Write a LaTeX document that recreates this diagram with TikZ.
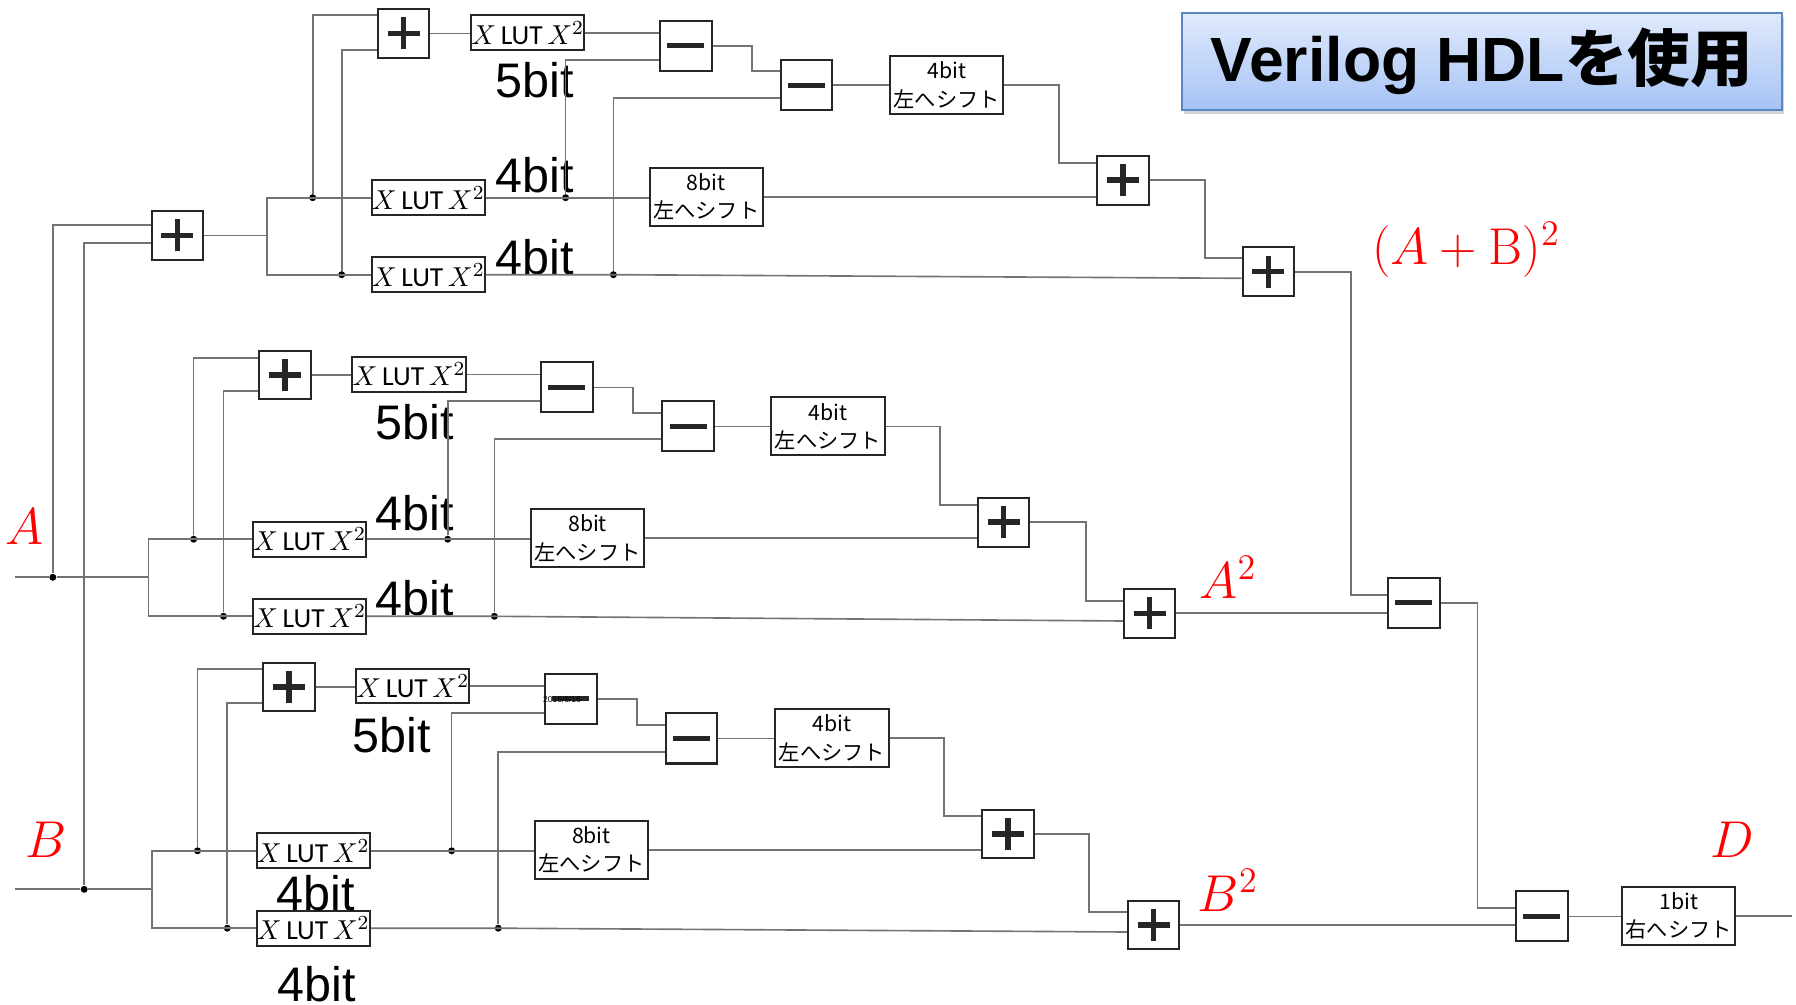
\documentclass[tikz,border=0pt]{standalone}
\usepackage[no-math]{fontspec}
\setmainfont{Liberation Sans}
\newfontfamily\cjk{Noto Sans CJK JP}
\newfontfamily\lutf{Carlito}
\usetikzlibrary{shadows}
\definecolor{titletop}{HTML}{E0EAFC}
\definecolor{titlebot}{HTML}{A6C3F5}
\definecolor{titleedge}{HTML}{5A86C6}
\newcommand\lutsize{\fontsize{11}{13}\selectfont}
\newcommand\shiftsize{\cjk\fontsize{8.5}{11.4}\selectfont}
\newcommand\bitsize{\fontsize{19.4}{22}\selectfont}
\newcommand\redsize{\fontsize{20}{24}\selectfont}
\newcommand\lutx{$X$\,{\lutf LUT}\,$X^{2}$}
\begin{document}
\begin{tikzpicture}[x=0.4pt,y=-0.4pt,
  wire/.style={draw=black!55, line width=0.65pt},
  blk/.style={draw=black!85, line width=0.8pt, fill=white, inner sep=0pt},
  addbox/.style={blk, minimum width=20.6pt, minimum height=19.5pt,
    path picture={
      \draw[line width=2.2pt] ([xshift=-6.4pt]path picture bounding box.center) -- ([xshift=6.4pt]path picture bounding box.center);
      \draw[line width=2.2pt] ([yshift=-6.4pt]path picture bounding box.center) -- ([yshift=6.4pt]path picture bounding box.center);}},
  subbox/.style={blk, minimum width=20.6pt, minimum height=20pt,
    path picture={
      \draw[line width=2pt] ([xshift=-7.4pt]path picture bounding box.center) -- ([xshift=7.4pt]path picture bounding box.center);}},
  lut/.style={blk, minimum width=45.3pt, minimum height=13.9pt, font=\lutsize},
  shiftbox/.style={blk, minimum width=45.3pt, minimum height=23.2pt, align=center, font=\shiftsize},
  dot/.style={circle, fill=black, inner sep=0pt, minimum size=2.8pt},
  bitlbl/.style={font=\bitsize, inner sep=0pt},
  redlbl/.style={text=red, font=\redsize, inner sep=0pt}]
\useasboundingbox (0,0) rectangle (1796,1005);

% ---------- title ----------
\node[draw=titleedge, line width=0.8pt, top color=titletop, bottom color=titlebot,
  drop shadow={shadow xshift=0.8pt, shadow yshift=-1.6pt, opacity=0.35},
  minimum width=239.8pt, minimum height=38.9pt, inner sep=0pt]
  (title) at (1481.8,61.4) {\fontsize{25}{28}\selectfont\bfseries Verilog HDL{\cjk\bfseries を使用}};

% ---------- top section: (A+B)^2 ----------
\node[addbox] (P1) at (177.4,235.4) {};
\node[lut] (T2) at (428.3,197.7) {\lutx};
\node[lut] (T3) at (428.3,274.7) {\lutx};
\node[addbox] (P2) at (403.7,33.4) {};
\node[lut] (T1) at (527.7,32.7) {\lutx};
\node[subbox] (M1) at (685.9,45.9) {};
\node[subbox] (M2) at (806.5,85.3) {};
\node[shiftbox] (S4a) at (946.7,85) {4bit\\左へシフト};
\node[shiftbox] (S8a) at (706.2,196.7) {8bit\\左へシフト};
\node[addbox] (P3) at (1122.8,180.2) {};
\node[addbox] (P4) at (1268.3,271.7) {};
\node[dot] (d1) at (312.7,197.7) {};
\node[dot] (d2) at (341.7,274.7) {};
\node[dot] (d3) at (565.6,197.7) {};
\node[dot] (d4) at (613.4,274.7) {};
\coordinate (s1) at (267,235.4);
\coordinate (b1) at (752.3,71);
\coordinate (b2) at (1059,163.3);
\coordinate (b3) at (1204.8,258.3);
\coordinate (b4) at (1351,594.7);

\node[bitlbl] (l5a) at (535,80) {5bit};
\node[bitlbl] (l4a) at (535,175) {4bit};
\node[bitlbl] (l4b) at (535,257) {4bit};
\node[redlbl] (ABsq) at (1466,250) {$(A+\mathrm{B})^{2}$};

% ---------- middle section: A^2 ----------
\node[lut] (LM2) at (309.6,539.2) {\lutx};
\node[lut] (LM3) at (309.6,616.3) {\lutx};
\node[addbox] (MP1) at (284.9,375) {};
\node[lut] (LM1) at (409.1,374.5) {\lutx};
\node[subbox] (MM1) at (566.8,387.5) {};
\node[subbox] (MM2) at (688,426.4) {};
\node[shiftbox] (S4m) at (828,426.5) {4bit\\左へシフト};
\node[shiftbox] (S8m) at (587.6,538.3) {8bit\\左へシフト};
\node[addbox] (MP2) at (1003.7,522.2) {};
\node[addbox] (MP3) at (1149.5,613.3) {};
\node[dot] (e1) at (193.6,539.2) {};
\node[dot] (e2) at (223.5,616.3) {};
\node[dot] (e3) at (447.7,539.2) {};
\node[dot] (e4) at (494.4,616.3) {};
\coordinate (s2) at (148.5,577.3);
\coordinate (c1) at (633.3,412.7);
\coordinate (c2) at (939.8,505);
\coordinate (c3) at (1086,600.7);

\node[bitlbl] (l5m) at (415,422) {5bit};
\node[bitlbl] (l4m) at (415,513) {4bit};
\node[bitlbl] (l4n) at (415,598) {4bit};
\node[redlbl] (Alab) at (24.5,526.5) {$A$};
\node[redlbl] (Asq) at (1228,577) {$A^{2}$};

% ---------- bottom section: B^2 ----------
\node[lut] (LB2) at (313.2,850.8) {\lutx};
\node[lut] (LB3) at (313.2,928.2) {\lutx};
\node[addbox] (BP1) at (288.8,687) {};
\node[lut] (LB1) at (412.8,686) {\lutx};
\node[subbox] (BM1) at (570.8,699) {};
\node[font=\fontsize{3.4}{4}\selectfont, inner sep=0pt] (date) at (562,699) {2016/6/16};
\node[subbox] (BM2) at (691.7,738.5) {};
\node[shiftbox] (S4b) at (832,738.2) {4bit\\左へシフト};
\node[shiftbox] (S8b) at (591.4,849.8) {8bit\\左へシフト};
\node[addbox] (BP2) at (1008,833.9) {};
\node[addbox] (BP3) at (1153.6,924.9) {};
\node[dot] (f1) at (197.5,850.8) {};
\node[dot] (f2) at (227.3,928.2) {};
\node[dot] (f3) at (451.6,850.8) {};
\node[dot] (f4) at (498.3,928.2) {};
\coordinate (s3) at (152.3,889.3);
\coordinate (g1) at (637,724.7);
\coordinate (g2) at (943.7,816.3);
\coordinate (g3) at (1089,912.3);

\node[bitlbl] (l5b) at (392,735) {5bit};
\node[bitlbl] (l4c) at (316,893) {4bit};
\node[bitlbl] (l4d) at (317,984) {4bit};
\node[redlbl] (Blab) at (46.5,839.5) {$B$};
\node[redlbl] (Bsq) at (1228,890) {$B^{2}$};

% ---------- output ----------
\node[subbox] (MM3) at (1413.8,603) {};
\node[subbox] (FM) at (1541.9,916.4) {};
\node[shiftbox] (S1) at (1678.8,916) {1bit\\右へシフト};
\coordinate (h1) at (1477.5,908);
\coordinate (Dout) at (1792,916);
\node[redlbl] (Dlab) at (1732,839.5) {$D$};

% ---------- inputs ----------
\coordinate (Ain) at (14.5,577.3);
\coordinate (Bin) at (14.5,889.3);
\node[dot] (dA) at (52.8,577.3) {};
\node[dot] (dB) at (84.2,889.3) {};

% ---------- wires ----------
\draw[wire] (Ain) -- (dA) -- (s2);
\draw[wire] (Bin) -- (dB) -- (s3);
\draw[wire] (dA) |- (P1.west |- 0,225.3);
\draw[wire] (dB) |- (P1.west |- 0,243.3);

% top
\draw[wire] (P1.east) -- (s1);
\draw[wire] (T2.west) -| (s1) |- (T3.west);
\draw[wire] (d1) |- (P2.west |- 0,15.3);
\draw[wire] (d2) |- (P2.west |- 0,50);
\draw[wire] (P2.east) -- (T1.west |- P2.east);
\draw[wire] (T1.east) -- (M1.west |- T1.east);
\draw[wire] (d3) |- (M1.west |- 0,60);
\draw[wire] (T2.east) -- (S8a.west |- T2.east);
\draw[wire] (M1.east) -| (b1) -- (M2.west |- b1);
\draw[wire] (d4) |- (M2.west |- 0,98.3);
\draw[wire] (M2.east) -- (S4a.west |- M2.east);
\draw[wire] (S4a.east) -| (b2) -- (P3.west |- b2);
\draw[wire] (S8a.east) -- (P3.west |- S8a.east);
\draw[wire] (P3.east) -| (b3) -- (P4.west |- b3);
\draw[wire] (T3.east) -- (d4.center) -- (P4.west |- 0,278.3);
\draw[wire] (P4.east) -| (b4) -- (MM3.west |- b4);

% middle
\draw[wire] (LM2.west) -| (s2) |- (LM3.west);
\draw[wire] (e1) |- (MP1.west |- 0,357.7);
\draw[wire] (e2) |- (MP1.west |- 0,391.3);
\draw[wire] (MP1.east) -- (LM1.west |- MP1.east);
\draw[wire] (LM1.east) -- (MM1.west |- LM1.east);
\draw[wire] (e3) |- (MM1.west |- 0,401.3);
\draw[wire] (MM1.east) -| (c1) -- (MM2.west |- c1);
\draw[wire] (e4) |- (MM2.west |- 0,439.3);
\draw[wire] (MM2.east) -- (S4m.west |- MM2.east);
\draw[wire] (LM2.east) -- (S8m.west |- LM2.east);
\draw[wire] (S4m.east) -| (c2) -- (MP2.west |- c2);
\draw[wire] (S8m.east) -- (MP2.west |- S8m.east);
\draw[wire] (MP2.east) -| (c3) -- (MP3.west |- c3);
\draw[wire] (LM3.east) -- (e4.center) -- (MP3.west |- 0,621);
\draw[wire] (MP3.east) -- (MM3.west |- MP3.east);

% bottom
\draw[wire] (LB2.west) -| (s3) |- (LB3.west);
\draw[wire] (f1) |- (BP1.west |- 0,669);
\draw[wire] (f2) |- (BP1.west |- 0,703.3);
\draw[wire] (BP1.east) -- (LB1.west |- BP1.east);
\draw[wire] (LB1.east) -- (BM1.west |- LB1.east);
\draw[wire] (f3) |- (BM1.west |- 0,713.3);
\draw[wire] (BM1.east) -| (g1) -- (BM2.west |- g1);
\draw[wire] (f4) |- (BM2.west |- 0,751.7);
\draw[wire] (BM2.east) -- (S4b.west |- BM2.east);
\draw[wire] (LB2.east) -- (S8b.west |- LB2.east);
\draw[wire] (S4b.east) -| (g2) -- (BP2.west |- g2);
\draw[wire] (S8b.east) -- (BP2.west |- S8b.east);
\draw[wire] (BP2.east) -| (g3) -- (BP3.west |- g3);
\draw[wire] (LB3.east) -- (f4.center) -- (BP3.west |- 0,932);
\draw[wire] (BP3.east) -- (FM.west |- BP3.east);

% output
\draw[wire] (MM3.east) -| (h1) -- (FM.west |- h1);
\draw[wire] (FM.east) -- (S1.west |- FM.east);
\draw[wire] (S1.east) -- (Dout);
\end{tikzpicture}
\end{document}
